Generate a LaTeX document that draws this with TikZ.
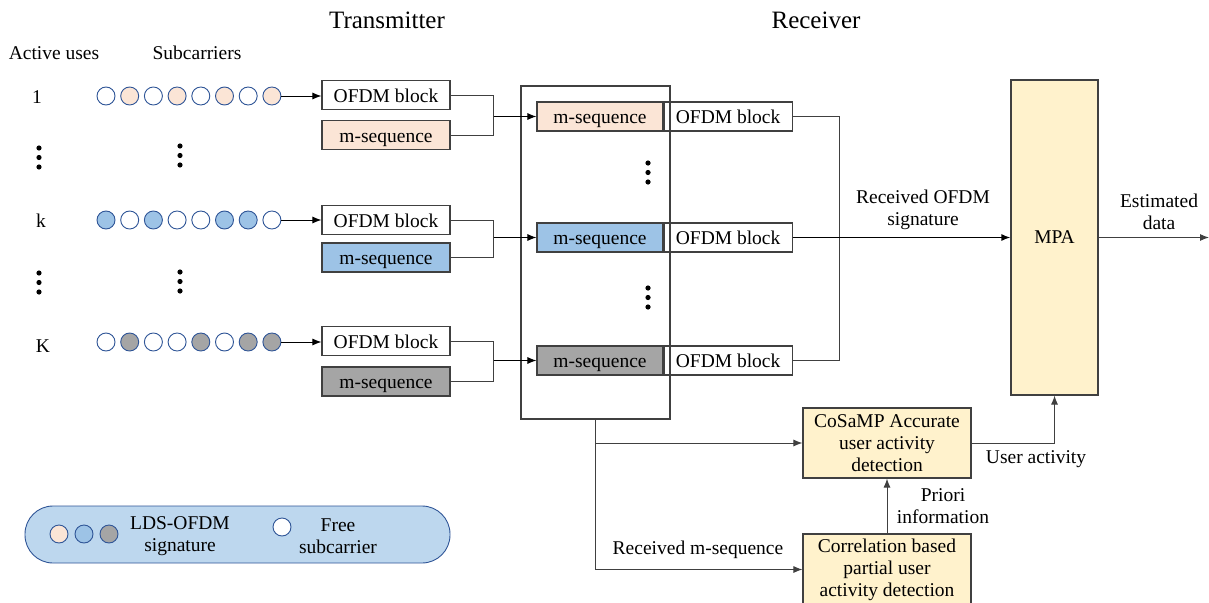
\documentclass[tikz,border=0pt]{standalone}
\usepackage{fontspec}
\setmainfont{Liberation Serif}
\usetikzlibrary{arrows.meta}
\definecolor{peach}{RGB}{251, 229, 214}
\definecolor{sky}{RGB}{157, 195, 230}
\definecolor{ash}{RGB}{165, 165, 165}
\definecolor{cream}{RGB}{255, 242, 204}
\definecolor{pill}{RGB}{189, 215, 238}
\definecolor{rim}{RGB}{47, 85, 151}
\definecolor{edge}{RGB}{64, 64, 64}

\tikzset{
  txt/.style={font=\fontsize{19.5}{22}\selectfont, align=center, inner sep=0pt},
  blk/.style={txt, draw=edge, line width=1.1pt, minimum width=128pt, minimum height=29pt, text height=18pt, text depth=4pt},
  proc/.style={txt, draw=edge, line width=1.1pt, fill=cream, minimum width=168pt},
  sub/.style={circle, draw=rim, line width=0.9pt, minimum size=18pt, inner sep=0pt},
  wire/.style={draw=edge, line width=1pt},
}

\begin{document}
\begin{tikzpicture}[x=1pt, y=-1pt, >={Latex[length=9pt, width=7pt]}]
  \useasboundingbox (0, 0) rectangle (1209, 602);

  \node[txt, font=\fontsize{25}{28}\selectfont] (tx) at (387, 20) {Transmitter};
  \node[txt, font=\fontsize{25}{28}\selectfont] (rx) at (816, 20) {Receiver};
  \node[txt] (act) at (54, 53) {Active uses};
  \node[txt] (scl) at (197, 53) {Subcarriers};

  \node[txt] (u1) at (37, 97) {1};
  \node[txt] (uk) at (41, 221) {k};
  \node[txt] (uK) at (43, 346) {K};

  % vertical dots
  \foreach \x/\y in {39/148, 180/146, 39/273, 180/272, 648/163, 648/288}
    \foreach \d in {0, 9.5, 19}
      \fill (\x, \y+\d) circle (2.6pt);

  % subcarriers of each user
  \foreach \c [count=\i from 0] in {white, peach, white, peach, white, peach, white, peach}
    \node[sub, fill=\c] (a\i) at (106+23.7*\i, 96) {};
  \foreach \c [count=\i from 0] in {sky, white, sky, white, white, sky, sky, white}
    \node[sub, fill=\c] (b\i) at (106+23.7*\i, 220) {};
  \foreach \c [count=\i from 0] in {white, ash, white, white, ash, white, ash, ash}
    \node[sub, fill=\c] (c\i) at (106+23.7*\i, 342) {};

  % transmitter blocks
  \node[blk] (o1) at (386, 95) {OFDM block};
  \node[blk, fill=peach] (m1) at (386, 135) {m-sequence};
  \node[blk] (o2) at (386, 220) {OFDM block};
  \node[blk, fill=sky] (m2) at (386, 257.5) {m-sequence};
  \node[blk] (o3) at (386, 341) {OFDM block};
  \node[blk, fill=ash] (m3) at (386, 381.5) {m-sequence};

  \draw[wire, draw=black, ->] (a7) -- (o1.west |- a7);
  \draw[wire, draw=black, ->] (b7) -- (o2.west |- b7);
  \draw[wire, draw=black, ->] (c7) -- (o3.west |- c7);

  % receiver
  \node[draw=edge, line width=1.1pt, minimum width=149pt, minimum height=333pt] (rxbox) at (595.5, 252.5) {};
  \node[blk, minimum width=126pt, fill=peach] (rm1) at (600, 116.5) {m-sequence};
  \node[blk, anchor=west] (ro1) at (rm1.east) {OFDM block};
  \node[blk, minimum width=126pt, fill=sky] (rm2) at (600, 237.5) {m-sequence};
  \node[blk, anchor=west] (ro2) at (rm2.east) {OFDM block};
  \node[blk, minimum width=126pt, fill=ash] (rm3) at (600, 360.5) {m-sequence};
  \node[blk, anchor=west] (ro3) at (rm3.east) {OFDM block};

  \draw[wire] (o1.east) -- ++(43, 0) coordinate (j1) |- (m1.east);
  \draw[wire, draw=black, ->] (j1 |- rm1) -- (rm1.west);
  \draw[wire] (o2.east) -- ++(43, 0) coordinate (j2) |- (m2.east);
  \draw[wire, draw=black, ->] (j2 |- rm2) -- (rm2.west);
  \draw[wire] (o3.east) -- ++(43, 0) coordinate (j3) |- (m3.east);
  \draw[wire, draw=black, ->] (j3 |- rm3) -- (rm3.west);

  \node[txt, fill=cream, draw=edge, line width=1.1pt, minimum width=87pt, minimum height=315pt] (mpa) at (1054.5, 237.5) {MPA};
  \coordinate (bus) at (839, 116.5);
  \draw[wire] (ro1.east) -| (bus |- ro3.east) -- (ro3.east);
  \draw[wire, draw=black, line width=1.4pt, ->] (ro2.east) -- (mpa.west);
  \node[txt] (sig) at (923, 210) {Received OFDM\\signature};

  \coordinate (out) at (1209, 237.5);
  \draw[wire, ->] (mpa.east) -- (out);
  \node[txt] (est) at (1159, 212) {Estimated\\data};

  % activity detection
  \node[proc, minimum height=70pt] (cosamp) at (887, 443) {CoSaMP Accurate\\user activity\\detection};
  \node[proc, minimum height=71pt] (corr) at (887, 569.5) {Correlation based\\partial user\\activity detection};

  \draw[wire, ->] (cosamp.east) -| (mpa.south);
  \node[txt] (ua) at (1036, 459) {User activity};
  \draw[wire, ->] (corr.north) -- (cosamp.south);
  \node[txt] (pri) at (943, 506) {Priori\\information};
  \draw[wire, ->] (rxbox.south) |- (corr.west);
  \draw[wire, ->] (rxbox.south |- cosamp.west) -- (cosamp.west);
  \node[txt] (rms) at (698, 550) {Received m-sequence};

  % legend
  \node[draw=rim, fill=pill, line width=0.9pt, rounded corners=28pt, minimum width=425pt, minimum height=57pt] (legend) at (237.5, 534.5) {};
  \node[sub, fill=peach] (l1) at (59, 534) {};
  \node[sub, fill=sky] (l2) at (84, 534) {};
  \node[sub, fill=ash] (l3) at (109, 534) {};
  \node[txt] (lds) at (180, 536) {LDS-OFDM\\signature};
  \node[sub, fill=white] (l4) at (282, 527) {};
  \node[txt] (free) at (338, 536) {Free\\subcarrier};
\end{tikzpicture}
\end{document}
